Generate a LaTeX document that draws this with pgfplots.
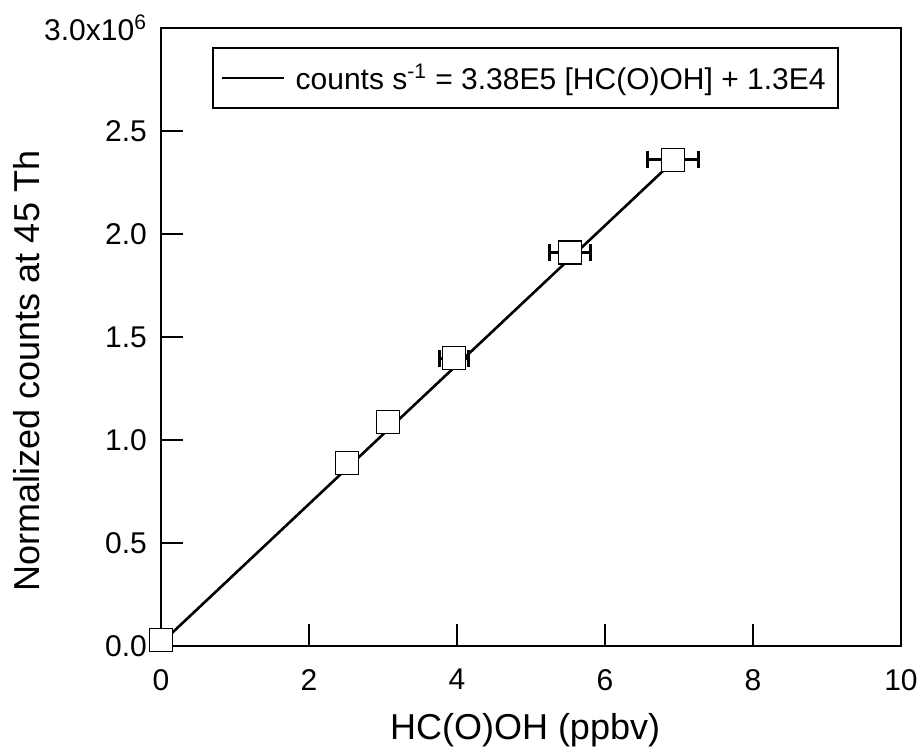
\documentclass[border=0pt]{standalone}
\usepackage{fontspec}
\setmainfont{Liberation Sans}
\usepackage{pgfplots}
\pgfplotsset{compat=1.18}
\begin{document}
\begin{tikzpicture}
\path[use as bounding box] (-80.5pt,-51.5pt) rectangle (378.5pt,323pt);
\begin{axis}[
    scale only axis,
    width=370pt, height=309pt,
    xmin=0, xmax=10, ymin=0, ymax=3e6,
    xtick={0,2,4,6,8,10},
    ytick={0,0.5e6,1e6,1.5e6,2e6,2.5e6,3e6},
    yticklabels={0.0,0.5,1.0,1.5,2.0,2.5,3.0x10\textsuperscript{6}},
    scaled y ticks=false,
    /pgf/number format/assume math mode=true,
    xtick pos=bottom, ytick pos=left,
    tick align=inside,
    major tick length=11pt,
    axis line style={line width=1.3pt},
    every tick/.style={black, line width=1.3pt},
    tick label style={font=\fontsize{15}{17}\selectfont},
    x tick label style={yshift=-8pt},
    y tick label style={xshift=-3.5pt},
    xlabel={HC(O)OH (ppbv)},
    ylabel={Normalized counts at 45 Th},
    label style={font=\fontsize{18}{20}\selectfont},
    xlabel style={at={(axis description cs:0.492,0)}, anchor=base, yshift=-47pt},
    ylabel style={at={([xshift=-60.5pt]axis description cs:0,0.445)}, anchor=base, rotate=0},
    legend style={at={(axis description cs:0.069,0.969)}, anchor=north west,
        draw=black, line width=1pt, font=\fontsize{15}{17}\selectfont,
        inner xsep=4pt, inner ysep=6pt},
    legend cell align=left,
    legend image code/.code={\path (0pt,0pt) -- (4pt,0pt);
        \draw[#1] (4pt,0pt) -- (31pt,0pt);},
]
\addplot[black, line width=1.3pt] coordinates {(0,13000) (6.92,2352000)};
\addlegendentry{\hspace{3pt}counts s\textsuperscript{-1} = 3.38E5 [HC(O)OH] + 1.3E4}
\addplot[forget plot, only marks, mark=square*, mark size=5.75pt,
    mark options={fill=white, draw=black, line width=0.6pt},
    error bars/.cd, x dir=both, x explicit,
    error bar style={line width=1.5pt, black},
    error mark options={rotate=90, line width=1.5pt, mark size=4.25pt, black}]
    coordinates {
    (0,30000) +- (0.03,0)
    (2.51,888000) +- (0.08,0)
    (3.07,1087000) +- (0.08,0)
    (3.96,1398000) +- (0.20,0)
    (5.53,1910000) +- (0.28,0)
    (6.92,2360000) +- (0.34,0)
};
\end{axis}
\end{tikzpicture}
\end{document}
